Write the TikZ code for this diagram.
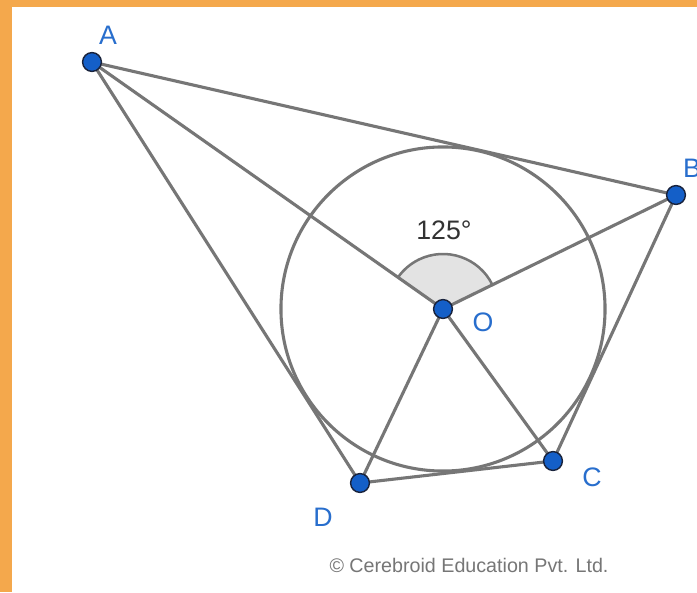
\documentclass[tikz,border=0pt]{standalone}
\usepackage{fontspec}
\setmainfont{Liberation Sans}
\usetikzlibrary{angles}
\definecolor{frameorange}{RGB}{244,168,76}
\definecolor{linegray}{RGB}{118,118,118}
\definecolor{labelblue}{RGB}{40,110,205}
\definecolor{dotblue}{RGB}{20,95,200}
\definecolor{dotedge}{RGB}{25,35,60}

\begin{document}
\begin{tikzpicture}[
  x=0.025cm, y=-0.025cm,
  seg/.style={draw=linegray, line width=2.2pt},
  dot/.style={circle, fill=dotblue, draw=dotedge, line width=1pt, inner sep=0pt, minimum size=0.47cm},
  lbl/.style={text=labelblue, font=\fontsize{19}{19}\selectfont, inner sep=0pt},
  credit/.style={text=linegray, font=\fontsize{14}{15}\selectfont, inner sep=0pt}
]

\useasboundingbox (0,0) rectangle (697,592);
\fill[frameorange] (0,0) rectangle (697,592);
\fill[white] (12,7) rectangle (697,592);

\coordinate (A) at (92,62);
\coordinate (B) at (676,195);
\coordinate (O) at (443,309);
\coordinate (C) at (553,461);
\coordinate (D) at (360,483);

\pic[draw=linegray, line width=1.8pt, fill=gray!22, angle radius=1.375cm] {angle=B--O--A};
\draw[linegray, line width=2.2pt] (O) circle[radius=4.05cm];

\draw[seg] (A) -- (B);
\draw[seg] (A) -- (O);
\draw[seg] (A) -- (D);
\draw[seg] (B) -- (O);
\draw[seg] (B) -- (C);
\draw[seg] (O) -- (C);
\draw[seg] (O) -- (D);
\draw[seg] (D) -- (C);

\node[dot] (pA) at (A) {};
\node[dot] (pB) at (B) {};
\node[dot] (pO) at (O) {};
\node[dot] (pC) at (C) {};
\node[dot] (pD) at (D) {};

\node[lbl] (lA) at (108,35) {A};
\node[lbl] (lB) at (692,168) {B};
\node[lbl] (lO) at (483,322) {O};
\node[lbl] (lC) at (592,477) {C};
\node[lbl] (lD) at (323,517) {D};
\node[lbl, text=black!80] (ang) at (444,230) {125°};

\node[credit] (copy) at (469,565) {© Cerebroid Education Pvt. Ltd.};

\end{tikzpicture}
\end{document}
